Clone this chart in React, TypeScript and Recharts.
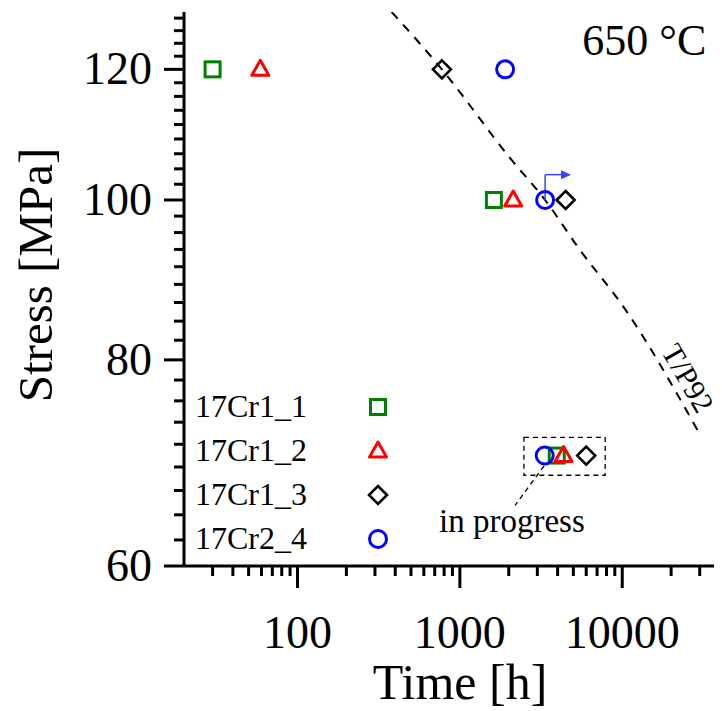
import React from "react";
import {
  ComposedChart,
  Scatter,
  Line,
  XAxis,
  YAxis,
  Legend,
  ReferenceArea,
  ReferenceLine,
  ReferenceDot,
} from "recharts";

const FONT = "'Liberation Serif', 'Times New Roman', serif";

// series
const seriesNames = ["17Cr1_1", "17Cr1_2", "17Cr1_3", "17Cr2_4"];
const seriesColors = ["#008000", "#ff0000", "#000000", "#0000ff"];
const seriesMarkers = ["square", "triangle", "diamond", "circle"];

const stressLevels = [120, 100, 70];
const cr1_1Times = [30, 1620, 3950];
const cr1_2Times = [59, 2130, 4350];
const cr1_3Times = [775, 4480, 6000];
const cr2_4Times = [1900, 3350, 3330];

// T/P92 reference curve
const tp92Times = [380, 775, 2040, 3350, 5430, 10300, 30300];
const tp92Stress = [130, 120, 106, 100, 93.4, 86, 72];

// axes
const xMajorTicks = [100, 1000, 10000];
const xMinorTicks = [
  30, 40, 50, 60, 70, 80, 90, 200, 300, 400, 500, 600, 700, 800, 900, 2000,
  3000, 4000, 5000, 6000, 7000, 8000, 9000, 20000, 30000, 40000,
];
const yMajorTicks = [60, 80, 100, 120];
const yMinorTicks: number[] = [];
for (let k = 1; k < 32; k++) {
  if (k % 9 !== 0) yMinorTicks.push(60 + (20 * k) / 9);
}

const toPoints = (times: number[]) =>
  times.map((t, i) => ({ time: t, stress: stressLevels[i] }));

const seriesData = [
  toPoints(cr1_1Times),
  toPoints(cr1_2Times),
  toPoints(cr1_3Times),
  toPoints(cr2_4Times),
];
const tp92Data = tp92Times.map((t, i) => ({ time: t, stress: tp92Stress[i] }));

const Marker = ({ cx, cy, kind, color }: any) => {
  if (kind === "square")
    return (
      <rect x={cx - 7.5} y={cy - 7.5} width={15} height={15} fill="none" stroke={color} strokeWidth={3} />
    );
  if (kind === "triangle")
    return (
      <polygon
        points={`${cx},${cy - 9} ${cx + 8.5},${cy + 6} ${cx - 8.5},${cy + 6}`}
        fill="none"
        stroke={color}
        strokeWidth={3}
        strokeLinejoin="round"
      />
    );
  if (kind === "diamond")
    return (
      <polygon
        points={`${cx},${cy - 9} ${cx + 9},${cy} ${cx},${cy + 9} ${cx - 9},${cy}`}
        fill="none"
        stroke={color}
        strokeWidth={2.6}
      />
    );
  return <circle cx={cx} cy={cy} r={8.5} fill="none" stroke={color} strokeWidth={3} />;
};

const XTick = (props: any) => {
  const { x, y, payload } = props;
  const major = xMajorTicks.includes(payload.value);
  return (
    <g>
      <line x1={x} x2={x} y1={y} y2={y + (major ? 22 : 10)} stroke="#000" strokeWidth={3} />
      {major && (
        <text x={x} y={y + 82} textAnchor="middle" fontFamily={FONT} fontSize={46} fill="#000">
          {payload.value}
        </text>
      )}
    </g>
  );
};

const YTick = (props: any) => {
  const { x, y, payload } = props;
  const major = yMajorTicks.includes(payload.value);
  return (
    <g>
      <line x1={x} x2={x - (major ? 20 : 10)} y1={y} y2={y} stroke="#000" strokeWidth={3} />
      {major && (
        <text x={x - 32} y={y + 15} textAnchor="end" fontFamily={FONT} fontSize={46} fill="#000">
          {payload.value}
        </text>
      )}
    </g>
  );
};

const LegendBox = () => (
  <svg width={240} height={190}>
    {seriesNames.map((name, i) => {
      const base = 39 + i * 44;
      return (
        <g key={name}>
          <text x={7} y={base} fontFamily={FONT} fontSize={32} fill="#000">
            {name}
          </text>
          <Marker cx={190} cy={base - 10} kind={seriesMarkers[i]} color={seriesColors[i]} />
        </g>
      );
    })}
  </svg>
);

const App: React.FC = () => {
  return (
    <div style={{ width: 714, height: 703, background: "#fff" }}>
      <ComposedChart width={714} height={703} margin={{ top: 4, right: 2, left: 0, bottom: 0 }}>
        <XAxis
          dataKey="time"
          type="number"
          scale="log"
          domain={[20, 40000]}
          allowDataOverflow
          ticks={[...xMinorTicks, ...xMajorTicks].sort((a, b) => a - b)}
          interval={0}
          tick={<XTick />}
          tickLine={false}
          tickSize={0}
          tickMargin={0}
          height={145}
          axisLine={{ stroke: "#000", strokeWidth: 3 }}
          label={{
            content: () => (
              <text x={452} y={691} textAnchor="middle" fontFamily={FONT} fontSize={50} fill="#000">
                Time [h]
              </text>
            ),
          }}
        />
        <YAxis
          dataKey="stress"
          type="number"
          scale="log"
          domain={[60, 130]}
          allowDataOverflow
          ticks={[...yMinorTicks, ...yMajorTicks].sort((a, b) => a - b)}
          interval={0}
          tick={<YTick />}
          tickLine={false}
          tickSize={0}
          tickMargin={0}
          width={176}
          axisLine={{ stroke: "#000", strokeWidth: 3 }}
          label={{
            content: () => (
              <text
                x={44}
                y={267}
                transform="rotate(-90, 44, 267)"
                textAnchor="middle"
                fontFamily={FONT}
                fontSize={49}
                fill="#000"
              >
                Stress [MPa]
              </text>
            ),
          }}
        />
        <Legend
          layout="vertical"
          align="center"
          verticalAlign="middle"
          wrapperStyle={{ position: "absolute", left: 180, top: 370, width: 240, height: 190 }}
          content={<LegendBox />}
        />

        <Line
          data={tp92Data}
          dataKey="stress"
          type="monotone"
          stroke="#000"
          strokeWidth={2}
          strokeDasharray="9 8"
          dot={false}
          activeDot={false}
          legendType="none"
          isAnimationActive={false}
        />

        <ReferenceArea
          x1={2480}
          x2={7850}
          y1={68.1}
          y2={71.8}
          fill="none"
          fillOpacity={0}
          stroke="#000"
          strokeWidth={1.3}
          strokeDasharray="5 4"
          ifOverflow="visible"
        />
        <ReferenceLine
          segment={[
            { x: 3300, y: 69.0 },
            { x: 2190, y: 65.3 },
          ]}
          stroke="#000"
          strokeWidth={1.3}
          strokeDasharray="5 4"
        />
        <ReferenceDot
          x={2093}
          y={62.9}
          r={0}
          shape={(p: any) => (
            <text x={p.cx} y={p.cy} textAnchor="middle" fontFamily={FONT} fontSize={33} fill="#000">
              in progress
            </text>
          )}
        />
        <ReferenceDot
          x={13680}
          y={122.4}
          r={0}
          shape={(p: any) => (
            <text x={p.cx} y={p.cy} textAnchor="middle" fontFamily={FONT} fontSize={44} fill="#000">
              650 °C
            </text>
          )}
        />
        <ReferenceDot
          x={25500}
          y={78}
          r={0}
          shape={(p: any) => (
            <text
              x={p.cx}
              y={p.cy}
              transform={`rotate(60, ${p.cx}, ${p.cy})`}
              textAnchor="middle"
              dominantBaseline="central"
              fontFamily={FONT}
              fontSize={30}
              fill="#000"
            >
              T/P92
            </text>
          )}
        />

        {/* run-out arrow on 17Cr2_4 at 100 MPa */}
        <ReferenceLine
          segment={[
            { x: 3350, y: 100 },
            { x: 3350, y: 103.6 },
          ]}
          stroke="#3344ff"
          strokeWidth={1.5}
        />
        <ReferenceLine
          segment={[
            { x: 3350, y: 103.6 },
            { x: 4400, y: 103.6 },
          ]}
          stroke="#3344ff"
          strokeWidth={1.5}
        />
        <ReferenceDot
          x={4840}
          y={103.6}
          r={0}
          shape={(p: any) => (
            <polygon
              points={`${p.cx},${p.cy} ${p.cx - 10},${p.cy - 4.5} ${p.cx - 10},${p.cy + 4.5}`}
              fill="#3344ff"
            />
          )}
        />

        {seriesNames.map((name, i) => (
          <Scatter
            key={name}
            name={name}
            data={seriesData[i]}
            fill={seriesColors[i]}
            isAnimationActive={false}
            shape={(p: any) => (
              <Marker cx={p.cx} cy={p.cy} kind={seriesMarkers[i]} color={seriesColors[i]} />
            )}
          />
        ))}
      </ComposedChart>
    </div>
  );
};

export default App;
